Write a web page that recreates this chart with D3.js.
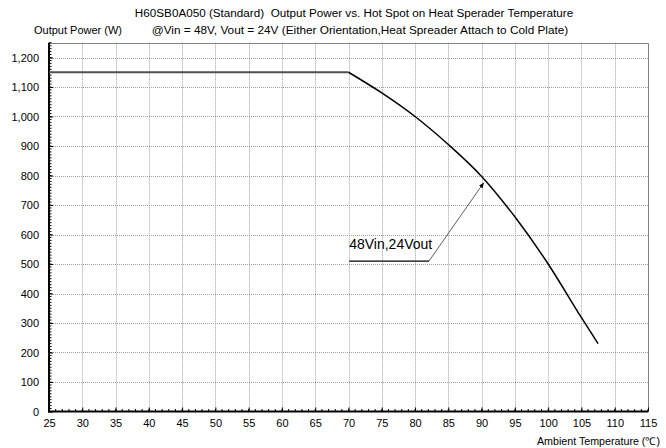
<!DOCTYPE html>
<html>
<head>
<meta charset="utf-8">
<script src="https://cdn.jsdelivr.net/npm/d3@7"></script>
<style>
  html, body { margin: 0; padding: 0; background: #fff; }
  svg { display: block; font-family: "Liberation Sans", Arial, sans-serif; }
  svg text { white-space: pre; }
</style>
</head>
<body>
<svg id="chart" width="666" height="448"></svg>
<script>
// Derating curve: output power (W) against ambient temperature (°C)
const flatTemps = [25, 70];
const flatPower = [1150, 1150];
const derateTemps = [70, 75, 80, 85, 90, 95, 100, 105, 107.5];
const deratePower = [1150, 1080, 1000, 905, 797, 660, 500, 318, 230];

const xTicks = [25, 30, 35, 40, 45, 50, 55, 60, 65, 70, 75, 80, 85, 90, 95, 100, 105, 110, 115];
const yTicks = [0, 100, 200, 300, 400, 500, 600, 700, 800, 900, 1000, 1100, 1200];

const titleLines = [
  "H60SB0A050 (Standard)  Output Power vs. Hot Spot on Heat Sperader Temperature",
  "@Vin = 48V, Vout = 24V (Either Orientation,Heat Spreader Attach to Cold Plate)"
];
const yTitle = "Output Power (W)";
const xTitle = "Ambient Temperature (\u2103)";
const calloutText = "48Vin,24Vout";
// callout: underline (temp, power) pairs and arrow tip on the curve
const calloutLine = [[70.1, 510], [82.1, 510]];
const calloutTip = [90.3, 775];

const svg = d3.select("#chart");
const plotL = 49, plotR = 648, plotT = 42.75, plotB = 411.5;

const x = d3.scaleLinear().domain([25, 115]).range([plotL, plotR]);
const y = d3.scaleLinear().domain([0, 1250]).range([plotB, plotT]);

// grid
const grid = svg.append("g").attr("stroke", "#a0a0a0").attr("stroke-width", 1).attr("stroke-dasharray", "1,1");
grid.selectAll("line.v").data(xTicks.slice(1, -1)).join("line")
  .attr("x1", d => Math.round(x(d)) + 0.5).attr("x2", d => Math.round(x(d)) + 0.5)
  .attr("y1", plotT).attr("y2", plotB);
grid.selectAll("line.h").data(yTicks.slice(1)).join("line")
  .attr("y1", d => Math.round(y(d)) + 0.5).attr("y2", d => Math.round(y(d)) + 0.5)
  .attr("x1", plotL).attr("x2", plotR);

// frame top / right
svg.append("path")
  .attr("d", `M${plotL},${Math.round(plotT) + 0.5}H${Math.round(plotR) + 0.5}V${plotB}`)
  .attr("fill", "none").attr("stroke", "#808080").attr("stroke-width", 1);

// x axis
const xAxis = svg.append("g").attr("transform", `translate(0,${plotB})`)
  .call(d3.axisBottom(x).tickValues(xTicks).tickSize(-4).tickPadding(8).tickFormat(d3.format("d")));
xAxis.append("g").selectAll("line").data(d3.range(25, 116, 1)).join("line")
  .attr("x1", d => x(d)).attr("x2", d => x(d)).attr("y1", 0).attr("y2", -2.5)
  .attr("stroke", "#000");

// y axis
const yAxis = svg.append("g").attr("transform", `translate(${plotL},0)`)
  .call(d3.axisLeft(y).tickValues(yTicks).tickSize(-4).tickPadding(10).tickFormat(d3.format(",")));
yAxis.append("g").selectAll("line").data(d3.range(0, 1251, 10)).join("line")
  .attr("y1", d => y(d)).attr("y2", d => y(d)).attr("x1", 0).attr("x2", 2.5)
  .attr("stroke", "#000");

[xAxis, yAxis].forEach(g => {
  g.select(".domain").attr("stroke", "#000").attr("stroke-width", 2);
  g.selectAll(".tick line").attr("stroke", "#000");
  g.selectAll(".tick text").attr("font-size", 11).attr("fill", "#000")
    .attr("font-family", "'Liberation Sans', Arial, sans-serif");
});
yAxis.select(".domain").attr("d", `M0,${plotT}V${plotB + 1}`);
xAxis.select(".domain").attr("d", `M${plotL - 1},0H${plotR}`);

// series
const flatData = flatTemps.map((t, i) => [t, flatPower[i]]);
const derateData = derateTemps.map((t, i) => [t, deratePower[i]]);
svg.append("path").datum(flatData)
  .attr("d", d3.line().x(d => x(d[0])).y(d => y(d[1])))
  .attr("fill", "none").attr("stroke", "#505050").attr("stroke-width", 2);
svg.append("path").datum(derateData)
  .attr("d", d3.line().x(d => x(d[0])).y(d => y(d[1])).curve(d3.curveMonotoneX))
  .attr("fill", "none").attr("stroke", "#000").attr("stroke-width", 1.5);

// callout
svg.append("defs").append("marker").attr("id", "arrow")
  .attr("viewBox", "0 0 10 10").attr("refX", 9).attr("refY", 5)
  .attr("markerWidth", 7).attr("markerHeight", 7).attr("orient", "auto")
  .append("path").attr("d", "M0,1L10,5L0,9Z").attr("fill", "#000");
svg.append("path")
  .attr("d", d3.line().x(d => x(d[0])).y(d => y(d[1]))(calloutLine))
  .attr("stroke", "#000").attr("stroke-width", 1.3).attr("fill", "none");
svg.append("path")
  .attr("d", d3.line().x(d => x(d[0])).y(d => y(d[1]))([calloutLine[1], calloutTip]))
  .attr("stroke", "#333").attr("stroke-width", 0.8).attr("fill", "none")
  .attr("marker-end", "url(#arrow)");
svg.append("text").attr("x", x(calloutLine[0][0])).attr("y", y(calloutLine[0][1]) - 12)
  .attr("font-size", 14).text(calloutText);

// titles
svg.append("text").attr("x", 354).attr("y", 17).attr("text-anchor", "middle")
  .attr("font-size", 11.7).text(titleLines[0]);
svg.append("text").attr("x", 360).attr("y", 34).attr("text-anchor", "middle")
  .attr("font-size", 11.8).text(titleLines[1]);
svg.append("text").attr("x", 34).attr("y", 34).attr("font-size", 11).text(yTitle);
svg.append("text").attr("x", 660).attr("y", 445).attr("text-anchor", "end")
  .attr("font-size", 10.7).text(xTitle);
</script>
</body>
</html>
